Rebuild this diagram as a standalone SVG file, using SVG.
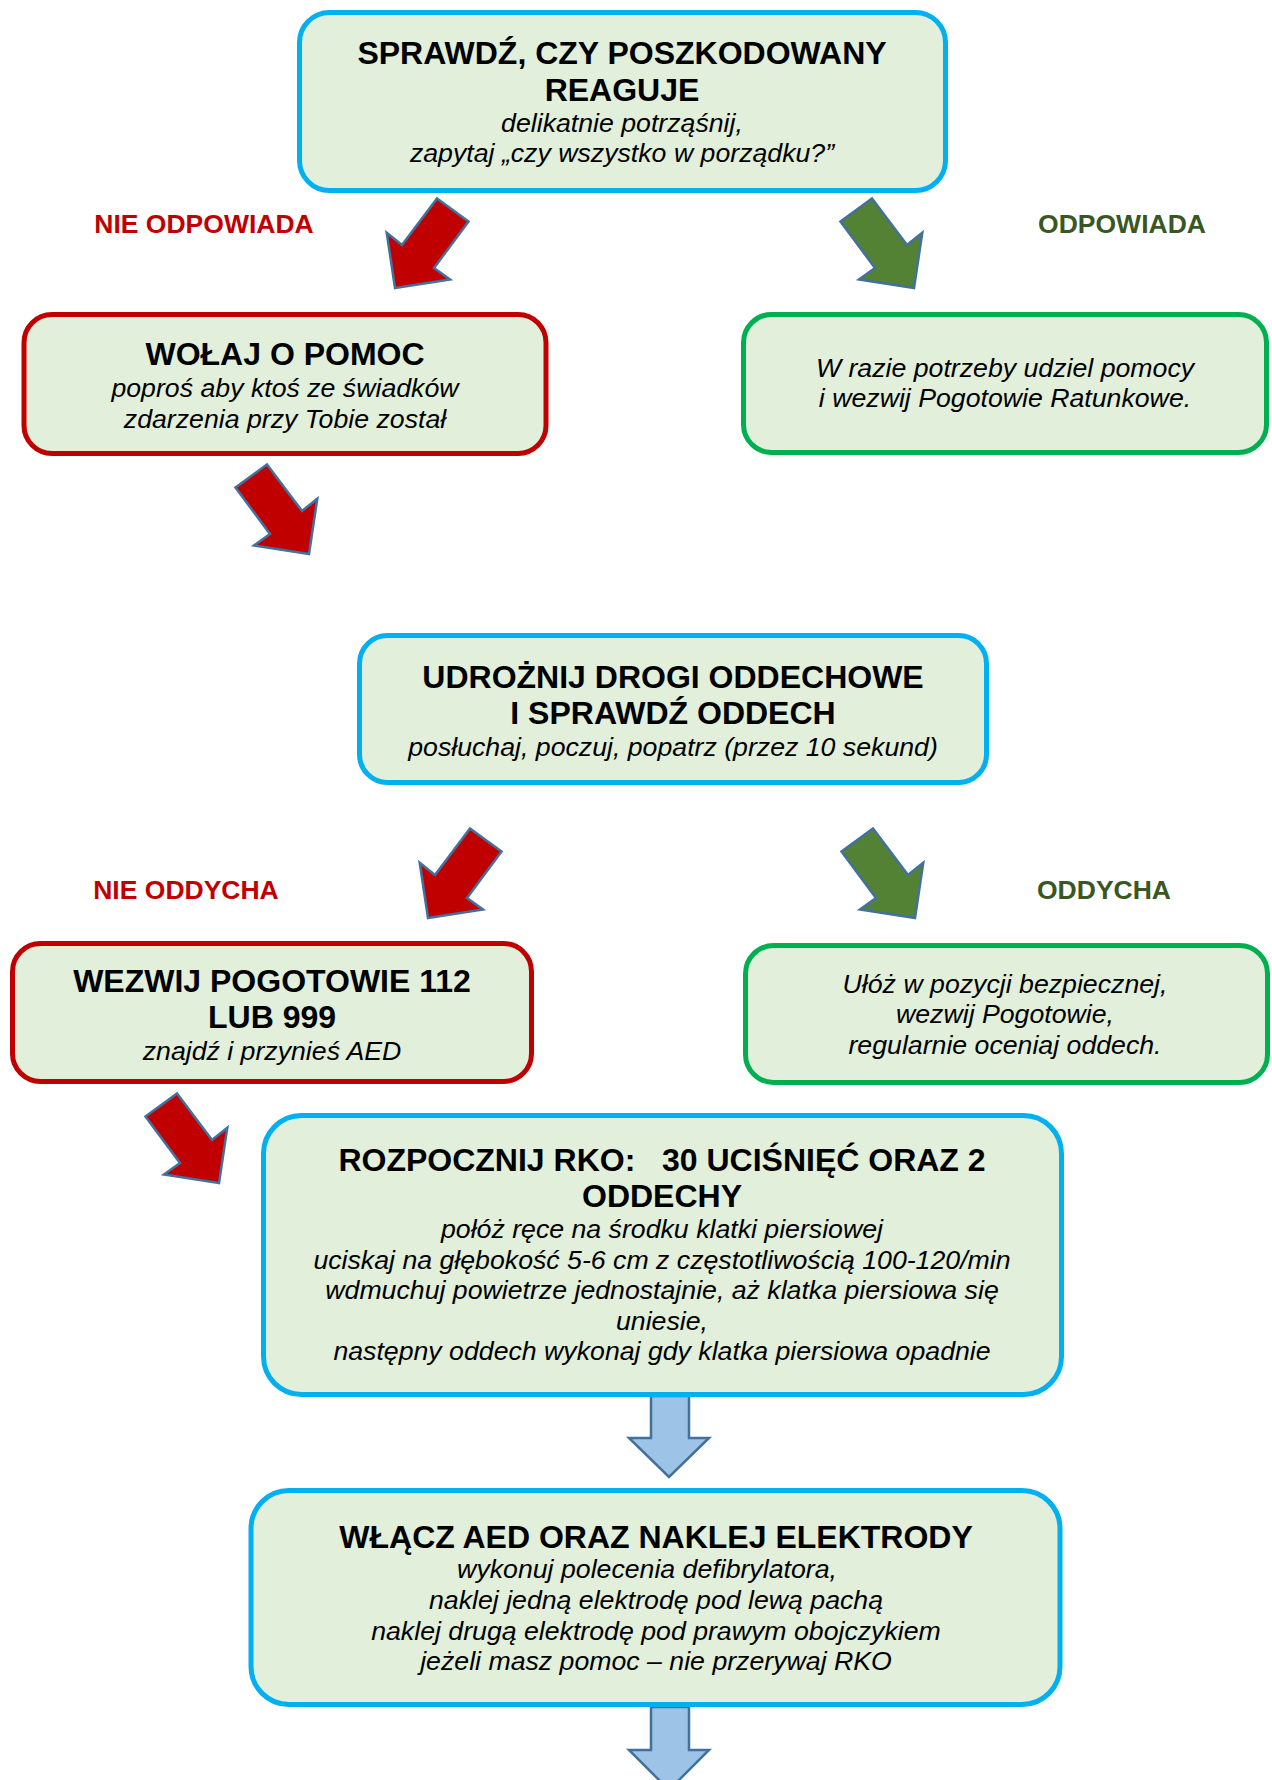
<svg xmlns="http://www.w3.org/2000/svg" width="1272" height="1780" viewBox="0 0 1272 1780">
<defs>
<style>
.box{fill:#E2EFDA;stroke-width:5}
.blue{stroke:#00B0F0}
.red{stroke:#C00000}
.green{stroke:#00B050}
text{font-family:"Liberation Sans",Arial,sans-serif;text-anchor:middle;fill:#000}
.h{font-weight:bold;font-size:32px}
.i{font-style:italic;font-size:26.7px}
.lr{font-weight:bold;font-size:26.5px;fill:#C00000}
.lg{font-weight:bold;font-size:26.5px;fill:#385723}
.arr{stroke:#41719C;stroke-width:2.5;stroke-linejoin:miter}
.ra{fill:#C00000}
.ga{fill:#548235}
.ba{fill:#9DC3E6}
</style>
<path id="dr" d="M0,0 L-55,-8.5 L-39,-20 L-73.5,-66.5 L-42,-89.5 L-7,-43 L8.3,-55.3 Z"/>
</defs>
<rect width="1272" height="1780" fill="#fff"/>
<g id="connectors">
<use href="#dr" class="arr ra" transform="translate(395,288) scale(-1,1)"/>
<use href="#dr" class="arr ga" transform="translate(914,288)"/>
<use href="#dr" class="arr ra" transform="translate(309,554)"/>
<use href="#dr" class="arr ra" transform="translate(428,918) scale(-1,1)"/>
<use href="#dr" class="arr ga" transform="translate(915,918)"/>
<use href="#dr" class="arr ra" transform="translate(219,1183)"/>
<path class="arr ba" d="M651,1396 L689,1396 L689,1438 L709,1438 L669,1477 L629,1438 L651,1438 Z"/>
<path class="arr ba" d="M651,1707 L689,1707 L689,1750 L709,1750 L669,1790 L629,1750 L651,1750 Z"/>
<text class="lr" x="204" y="233">NIE ODPOWIADA</text>
<text class="lg" x="1122" y="233">ODPOWIADA</text>
<text class="lr" x="186" y="899">NIE ODDYCHA</text>
<text class="lg" x="1104" y="899">ODDYCHA</text>
</g>
<g id="n1">
<rect class="box blue" x="299.5" y="12.5" width="646" height="178" rx="30"/>
<text class="h" x="622" y="64">SPRAWDŹ, CZY POSZKODOWANY</text>
<text class="h" x="622" y="101">REAGUJE</text>
<text class="i" x="622" y="132">delikatnie potrząśnij,</text>
<text class="i" x="622" y="162">zapytaj „czy wszystko w porządku?”</text>
</g>
<g id="n2">
<rect class="box red" x="24" y="314.5" width="522" height="139" rx="28"/>
<text class="h" x="285" y="365">WOŁAJ O POMOC</text>
<text class="i" x="285" y="397">poproś aby ktoś ze świadków</text>
<text class="i" x="285" y="428">zdarzenia przy Tobie został</text>
</g>
<g id="n3">
<rect class="box green" x="743.5" y="314.5" width="523" height="138" rx="28"/>
<text class="i" x="1005" y="377">W razie potrzeby udziel pomocy</text>
<text class="i" x="1005" y="407"> i wezwij Pogotowie Ratunkowe.</text>
</g>
<g id="n4">
<rect class="box blue" x="359.5" y="635.5" width="627" height="147" rx="28"/>
<text class="h" x="673" y="688">UDROŻNIJ DROGI ODDECHOWE</text>
<text class="h" x="673" y="724">I SPRAWDŹ ODDECH</text>
<text class="i" x="673" y="756">posłuchaj, poczuj, popatrz (przez 10 sekund)</text>
</g>
<g id="n5">
<rect class="box red" x="12.5" y="943.5" width="519" height="138" rx="28"/>
<text class="h" x="272" y="992">WEZWIJ POGOTOWIE 112</text>
<text class="h" x="272" y="1028">LUB 999</text>
<text class="i" x="272" y="1060">znajdź i przynieś AED</text>
</g>
<g id="n6">
<rect class="box green" x="745.5" y="945.5" width="522" height="137" rx="28"/>
<text class="i" x="1005" y="993">Ułóż w pozycji bezpiecznej,</text>
<text class="i" x="1005" y="1023">wezwij Pogotowie,</text>
<text class="i" x="1005" y="1054">regularnie oceniaj oddech.</text>
</g>
<g id="n7">
<rect class="box blue" x="263.5" y="1115.5" width="798" height="279" rx="38"/>
<text class="h" x="662" y="1171" xml:space="preserve">ROZPOCZNIJ RKO:   30 UCIŚNIĘĆ ORAZ 2</text>
<text class="h" x="662" y="1207">ODDECHY</text>
<text class="i" x="662" y="1238">połóż ręce na środku klatki piersiowej</text>
<text class="i" x="662" y="1269">uciskaj na głębokość 5-6 cm z częstotliwością 100-120/min</text>
<text class="i" x="662" y="1299">wdmuchuj powietrze jednostajnie, aż klatka piersiowa się</text>
<text class="i" x="662" y="1330">uniesie,</text>
<text class="i" x="662" y="1360">następny oddech wykonaj gdy klatka piersiowa opadnie</text>
</g>
<g id="n8">
<rect class="box blue" x="251" y="1490.5" width="809" height="214" rx="38"/>
<text class="h" x="656" y="1548">WŁĄCZ AED ORAZ NAKLEJ ELEKTRODY</text>
<text class="i" x="647" y="1578">wykonuj polecenia defibrylatora,</text>
<text class="i" x="656" y="1609">naklej jedną elektrodę pod lewą pachą</text>
<text class="i" x="656" y="1640">naklej drugą elektrodę pod prawym obojczykiem</text>
<text class="i" x="656" y="1670">jeżeli masz pomoc – nie przerywaj RKO</text>
</g>
</svg>
